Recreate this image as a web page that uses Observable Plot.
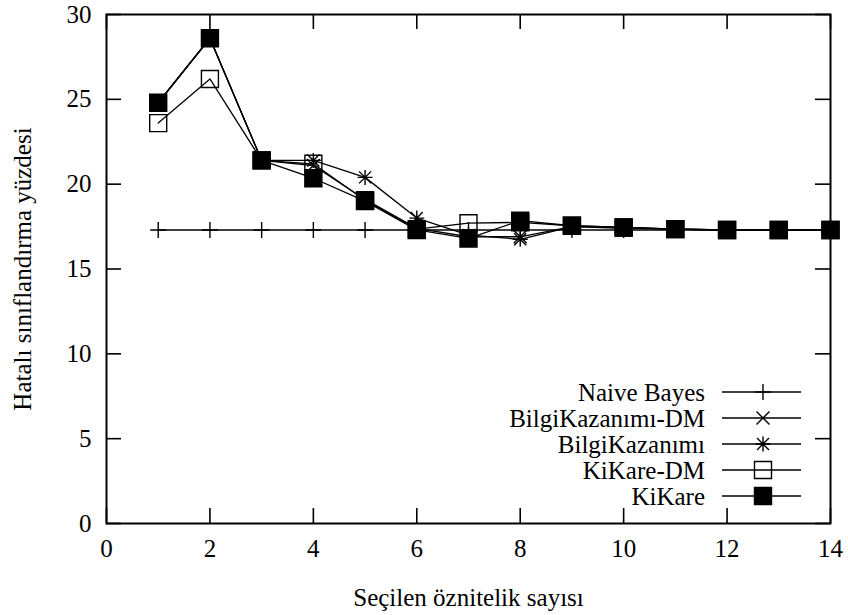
<!DOCTYPE html>
<html><head><meta charset="utf-8">
<script src="https://cdn.jsdelivr.net/npm/d3@7"></script>
<script src="https://cdn.jsdelivr.net/npm/@observablehq/plot@0.6"></script>
<style>body{margin:0;background:#fff}#chart{position:relative;width:848px;height:615px}</style>
</head><body><div id="chart"></div>
<script>
// ---- data ----
const features = [1,2,3,4,5,6,7,8,9,10,11,12,13,14];
const naiveBayes = [17.3,17.3,17.3,17.3,17.3,17.3,17.3,17.3,17.3,17.3,17.3,17.3,17.3,17.3];
const bilgiKazanimiDM = [24.8,28.6,21.4,21.1,19.1,17.4,16.9,16.9,17.5,17.4,17.35,17.3,17.3,17.3];
const bilgiKazanimi = [24.8,28.6,21.4,21.4,20.4,18.0,17.0,16.75,17.5,17.45,17.35,17.3,17.3,17.3];
const kiKareDM = [23.6,26.2,21.4,21.2,19.05,17.35,17.7,17.75,17.55,17.45,17.35,17.3,17.3,17.3];
const kiKare = [24.8,28.6,21.4,20.35,19.0,17.3,16.8,17.85,17.55,17.45,17.35,17.3,17.3,17.3];
const seriesNames = ["Naive Bayes","BilgiKazanımı-DM","BilgiKazanımı","KiKare-DM","KiKare"];
const seriesValues = [naiveBayes, bilgiKazanimiDM, bilgiKazanimi, kiKareDM, kiKare];
const xTicks = [0,2,4,6,8,10,12,14];
const yTicks = [0,5,10,15,20,25,30];
const xTitle = "Seçilen öznitelik sayısı";
const yTitle = "Hatalı sınıflandırma yüzdesi";

// ---- symbols ----
const plusSym = {draw(c){const h=8;c.moveTo(-h,0);c.lineTo(h,0);c.moveTo(0,-h);c.lineTo(0,h);}};
const timesSym = {draw(c){const h=6.5;c.moveTo(-h,-h);c.lineTo(h,h);c.moveTo(-h,h);c.lineTo(h,-h);}};
const starSym = {draw(c){const h=7.5,d=6;c.moveTo(-h,0);c.lineTo(h,0);c.moveTo(0,-h);c.lineTo(0,h);
  c.moveTo(-d,-d);c.lineTo(d,d);c.moveTo(-d,d);c.lineTo(d,-d);}};
const squareSym = {draw(c){const h=8.5;c.moveTo(-h,-h);c.lineTo(h,-h);c.lineTo(h,h);c.lineTo(-h,h);c.closePath();}};
const styles = [
  {symbol: plusSym, fill: "none"},
  {symbol: timesSym, fill: "none"},
  {symbol: starSym, fill: "none"},
  {symbol: squareSym, fill: "none"},
  {symbol: squareSym, fill: "black"}
];

const rows = [];
seriesNames.forEach((s, i) => features.forEach((f, j) => rows.push({series: s, x: f, y: seriesValues[i][j]})));

const W = 848, H = 615, mL = 106, mR = 18, mT = 14, mB = 92;
const innerH = H - mT - mB, innerW = W - mL - mR;
const tickLen = 15;

const marks = [];
seriesNames.forEach((s, i) => {
  const d = rows.filter(r => r.series === s);
  marks.push(Plot.line(d, {x: "x", y: "y", stroke: "black", strokeWidth: 1.3}));
  marks.push(Plot.dot(d, {x: "x", y: "y", symbol: styles[i].symbol, fill: styles[i].fill, stroke: "black", strokeWidth: 1.4}));
});

const chart = Plot.plot({
  width: W, height: H,
  marginLeft: mL, marginRight: mR, marginTop: mT, marginBottom: mB,
  style: {fontFamily: "'Liberation Serif', 'Times New Roman', serif", fontSize: "25px", background: "white", color: "black"},
  x: {domain: [0, 14]},
  y: {domain: [0, 30]},
  marks: [
    Plot.tickX(xTicks, {x: d => d, insetTop: innerH - tickLen, stroke: "black", strokeWidth: 1.6}),
    Plot.tickX(xTicks, {x: d => d, insetBottom: innerH - tickLen, stroke: "black", strokeWidth: 1.6}),
    Plot.tickY(yTicks, {y: d => d, insetRight: innerW - tickLen, stroke: "black", strokeWidth: 1.6}),
    Plot.tickY(yTicks, {y: d => d, insetLeft: innerW - tickLen, stroke: "black", strokeWidth: 1.6}),
    Plot.axisX(xTicks, {tickSize: 0, tickPadding: 16, label: null, fontSize: 25}),
    Plot.axisY(yTicks, {tickSize: 0, tickPadding: 15, label: null, fontSize: 25}),
    ...marks,
    Plot.frame({stroke: "black", strokeWidth: 2}),
    Plot.text([xTitle], {frameAnchor: "bottom", dy: 74, lineAnchor: "middle", textAnchor: "middle", fontSize: 25}),
    Plot.text([yTitle], {frameAnchor: "left", dx: -84, rotate: -90, lineAnchor: "middle", textAnchor: "middle", fontSize: 25})
  ]
});
document.getElementById("chart").appendChild(chart);

// ---- legend (inside the plot area, gnuplot style) ----
const svg = d3.select(chart);
const lg = svg.append("g").attr("class", "legend");
const rowY = i => 392 + 26 * i;
seriesNames.forEach((s, i) => {
  const y = rowY(i);
  lg.append("text").attr("x", 705).attr("y", y).attr("dy", "0.35em")
    .attr("text-anchor", "end").attr("font-family", "'Liberation Serif', serif")
    .attr("font-size", 25).attr("fill", "black").text(s);
  lg.append("line").attr("x1", 722).attr("x2", 801).attr("y1", y).attr("y2", y)
    .attr("stroke", "black").attr("stroke-width", 1.3);
  lg.append("path").attr("transform", `translate(763,${y})`)
    .attr("d", d3.symbol().type(styles[i].symbol)())
    .attr("fill", styles[i].fill).attr("stroke", "black").attr("stroke-width", 1.4);
});
</script>
</body></html>
